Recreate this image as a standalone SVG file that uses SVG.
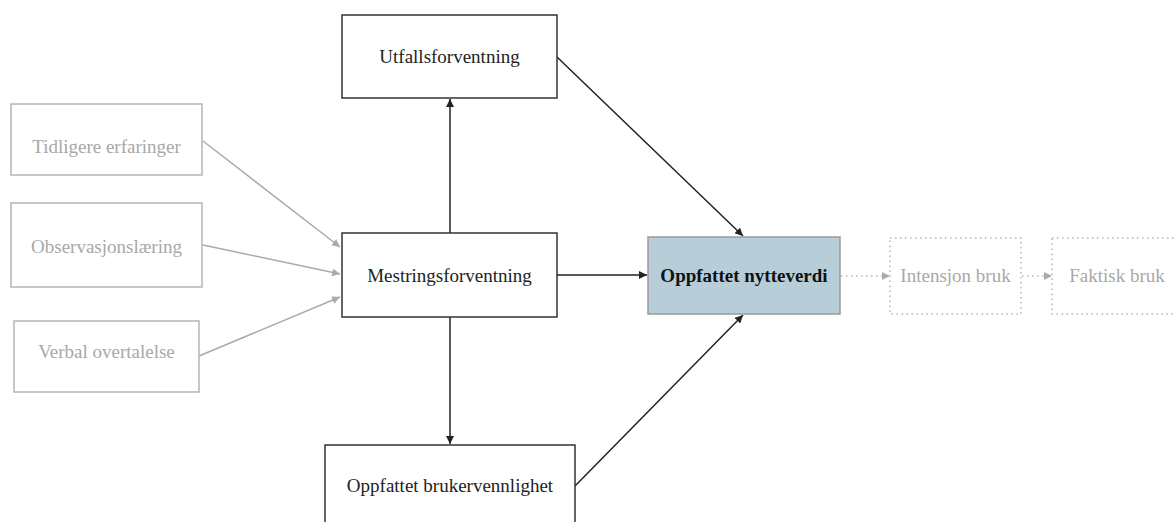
<svg xmlns="http://www.w3.org/2000/svg" width="1174" height="522" viewBox="0 0 1174 522">
  <defs>
    <marker id="arrow-dark" viewBox="0 0 10 10" refX="10" refY="5" markerWidth="8" markerHeight="8" markerUnits="userSpaceOnUse" orient="auto">
      <path d="M0,0 L10,5 L0,10 z" fill="#222"/>
    </marker>
    <marker id="arrow-grey" viewBox="0 0 10 10" refX="10" refY="5" markerWidth="8" markerHeight="8" markerUnits="userSpaceOnUse" orient="auto">
      <path d="M0,0 L10,5 L0,10 z" fill="#aaa"/>
    </marker>
    <style>
      text { font-family: "Liberation Serif", "Times New Roman", serif; font-size: 19px; text-anchor: middle; }
      .box-main { fill: #fff; stroke: #333; stroke-width: 1.5; }
      .box-src { fill: #fff; stroke: #b5b5b5; stroke-width: 1.5; }
      .box-focus { fill: #b7cdd8; stroke: #9a9a9a; stroke-width: 1.5; }
      .box-out { fill: none; stroke: #b5b5b5; stroke-width: 1.5; stroke-dasharray: 1.5 3.5; }
      .t-main { fill: #222; }
      .t-grey { fill: #a8a8a8; }
      .t-bold { fill: #111; font-weight: bold; }
      .link-dark { stroke: #222; stroke-width: 1.5; fill: none; marker-end: url(#arrow-dark); }
      .link-grey { stroke: #aaa; stroke-width: 1.5; fill: none; marker-end: url(#arrow-grey); }
      .link-dot { stroke: #b5b5b5; stroke-width: 1.5; fill: none; stroke-dasharray: 1.5 3.5; marker-end: url(#arrow-grey); }
    </style>
  </defs>
  <rect width="1174" height="522" fill="#fff"/>

  <!-- connectors -->
  <g id="connectors">
    <line class="link-grey" x1="203" y1="141" x2="340" y2="247"/>
    <line class="link-grey" x1="203" y1="245" x2="340" y2="274"/>
    <line class="link-grey" x1="199" y1="356" x2="340" y2="297"/>
    <line class="link-dark" x1="450" y1="233" x2="450" y2="99"/>
    <line class="link-dark" x1="450" y1="317" x2="450" y2="444"/>
    <line class="link-dark" x1="557" y1="275" x2="647" y2="275"/>
    <line class="link-dark" x1="557" y1="57" x2="743" y2="236"/>
    <line class="link-dark" x1="575" y1="486" x2="743" y2="315"/>
    <line class="link-dot" x1="841" y1="276" x2="890" y2="276"/>
    <line class="link-dot" x1="1022" y1="276" x2="1052" y2="276"/>
  </g>

  <!-- source factors -->
  <g id="tidligere">
    <rect class="box-src" x="11" y="104" width="191" height="71"/>
    <text class="t-grey" x="106.5" y="153">Tidligere erfaringer</text>
  </g>
  <g id="observasjon">
    <rect class="box-src" x="11" y="203" width="191" height="84"/>
    <text class="t-grey" x="106.5" y="253">Observasjonslæring</text>
  </g>
  <g id="verbal">
    <rect class="box-src" x="14" y="321" width="185" height="71"/>
    <text class="t-grey" x="106.5" y="358">Verbal overtalelse</text>
  </g>

  <!-- core constructs -->
  <g id="utfall">
    <rect class="box-main" x="342" y="15" width="215" height="83"/>
    <text class="t-main" x="449.5" y="63">Utfallsforventning</text>
  </g>
  <g id="mestring">
    <rect class="box-main" x="342" y="233" width="215" height="84"/>
    <text class="t-main" x="449.5" y="282">Mestringsforventning</text>
  </g>
  <g id="brukervennlighet">
    <rect class="box-main" x="325" y="445" width="250" height="90"/>
    <text class="t-main" x="450" y="492">Oppfattet brukervennlighet</text>
  </g>
  <g id="nytteverdi">
    <rect class="box-focus" x="648" y="237" width="192" height="77"/>
    <text class="t-bold" x="744" y="282">Oppfattet nytteverdi</text>
  </g>

  <!-- outcomes -->
  <g id="intensjon">
    <rect class="box-out" x="890" y="238" width="131" height="76"/>
    <text class="t-grey" x="955.5" y="282">Intensjon bruk</text>
  </g>
  <g id="faktisk">
    <rect class="box-out" x="1052" y="238" width="140" height="76"/>
    <text class="t-grey" x="1117" y="282">Faktisk bruk</text>
  </g>
</svg>
